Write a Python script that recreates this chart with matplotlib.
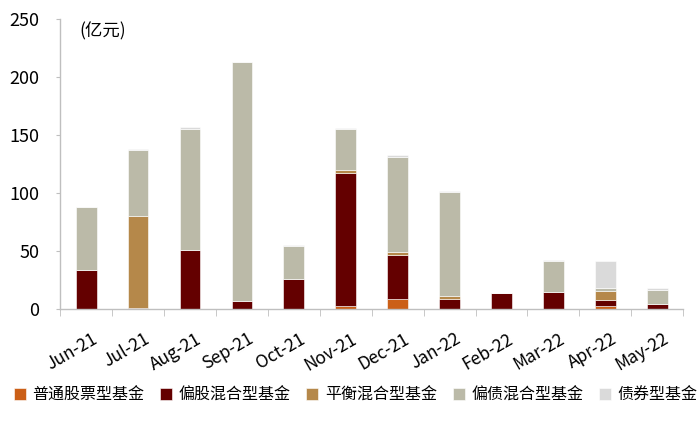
import matplotlib
matplotlib.use('Agg')
import matplotlib.pyplot as plt
import matplotlib.transforms as mtransforms
import numpy as np

plt.rcParams['font.family'] = ['Noto Sans CJK SC', 'DejaVu Sans']

# 月份
meses = ['Jun-21', 'Jul-21', 'Aug-21', 'Sep-21', 'Oct-21', 'Nov-21',
         'Dec-21', 'Jan-22', 'Feb-22', 'Mar-22', 'Apr-22', 'May-22']

# 各类基金发行规模 (亿元)
putong_gupiao = [0, 0, 0, 0, 0, 3, 8.5, 0, 0, 0, 2.3, 0]
piangu_hunhe = [34, 1, 51, 6.5, 25.5, 114.5, 38, 8.5, 13.5, 14.5, 5.7, 4]
pingheng_hunhe = [0, 79, 0, 0, 0, 2.5, 2.5, 3, 0, 0, 7.5, 0]
pianzhai_hunhe = [53.5, 57, 104, 206, 29, 35.5, 82, 89, 0, 26.5, 2.3, 12]
zhaiquan = [0.5, 1, 2, 0.5, 0.3, 0.3, 2, 1, 0, 1.5, 23.8, 1.7]

series = [
    ('普通股票型基金', putong_gupiao, '#CB5F17'),
    ('偏股混合型基金', piangu_hunhe, '#640000'),
    ('平衡混合型基金', pingheng_hunhe, '#B5884A'),
    ('偏债混合型基金', pianzhai_hunhe, '#BBBAA8'),
    ('债券型基金', zhaiquan, '#DADADA'),
]

fig = plt.figure(figsize=(7, 4.21), dpi=100)
ax = fig.add_axes([0.086, 0.266, 0.89, 0.689])

x = np.arange(len(meses))
base = np.zeros(len(meses))
for nome, vals, cor in series:
    ax.bar(x, vals, 0.4, bottom=base, color=cor, label=nome,
           edgecolor='white', linewidth=0.4)
    base += np.array(vals)

ax.set_xlim(-0.5, len(meses) - 0.5)
ax.set_ylim(0, 250)
ax.set_yticks([0, 50, 100, 150, 200, 250])
ax.tick_params(axis='y', labelsize=13, length=3, color='#BFBFBF', pad=12)

# 分类之间的刻度
ax.set_xticks(x)
ax.set_xticklabels(meses, rotation=30, ha='right', rotation_mode='anchor', fontsize=12.5)
ax.tick_params(axis='x', which='major', length=0, pad=15)
ax.set_xticks(np.arange(-0.5, len(meses)), minor=True)
ax.tick_params(axis='x', which='minor', length=5, color='#BFBFBF')
desloc = mtransforms.ScaledTranslation(4 / 72, 0, fig.dpi_scale_trans)
for lbl in ax.get_xticklabels():
    lbl.set_transform(lbl.get_transform() + desloc)

for s in ['top', 'right']:
    ax.spines[s].set_visible(False)
for s in ['left', 'bottom']:
    ax.spines[s].set_color('#BFBFBF')
    ax.spines[s].set_linewidth(1)

ax.text(0.03, 0.99, '(亿元)', transform=ax.transAxes, fontsize=12.5,
        ha='left', va='top')

fig.legend(loc='center', bbox_to_anchor=(0.508, 0.062), ncol=5, frameon=False,
           fontsize=11.5, handlelength=0.75, handleheight=0.75, handletextpad=0.4,
           columnspacing=1.0)

fig.savefig('out.png', dpi=100)
